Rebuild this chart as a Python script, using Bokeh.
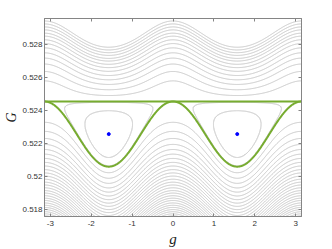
import numpy as np
from bokeh.plotting import figure
from bokeh.models import LinearAxis, FixedTicker, Range1d, CustomLabelingPolicy
from bokeh.embed import file_html
from bokeh.resources import INLINE

# ---- values ----
G_sep = 0.52455          # flat separatrix (hyperbolic points at g = 0, +-pi)
G_dip = 0.52060          # separatrix minimum at g = +-pi/2
island_g = [-np.pi / 2, np.pi / 2]
# contour crossings at g = 0 (above / below the separatrix)
G_above_at_0 = [0.52580, 0.52637, 0.52682, 0.52718, 0.52750, 0.52780, 0.52806,
                0.52829, 0.52851, 0.52869, 0.52889, 0.52907, 0.52925, 0.52943]
G_below_at_0 = [0.52329, 0.52274, 0.52231, 0.52195, 0.52164, 0.52136, 0.52110,
                0.52086, 0.52064, 0.52042, 0.52022, 0.52003, 0.51984, 0.51966,
                0.51949, 0.51932, 0.51915, 0.51900, 0.51884, 0.51869, 0.51855,
                0.51840, 0.51826, 0.51813, 0.51800, 0.51787, 0.51774, 0.51762]
# top of the closed contours inside the islands (at g = +-pi/2)
G_island_tops = [0.52450, 0.52399]
x_ticks = [-3, -2, -1, 0, 1, 2, 3]
x_tick_labels = ["-3", "-2", "-1", "0", "1", "2", "3"]
y_ticks = [0.518, 0.520, 0.522, 0.524, 0.526, 0.528]
y_tick_labels = ["0.518", "0.52", "0.522", "0.524", "0.526", "0.528"]

GRAY = "#c4c4c4"
GREEN = "#77ac30"
AX = "#858585"

d = G_sep - G_dip
g = np.linspace(-np.pi, np.pi, 721)
s = np.sin(g) ** 2

xs, ys = [], []
for G0 in G_above_at_0:
    h = (G0 - G_sep) ** 2
    u = (-d * s + np.sqrt(d * d * s * s + 4 * h)) / 2
    xs.append(g)
    ys.append(G_sep + u)
for G0 in G_below_at_0:
    h = (G0 - G_sep) ** 2
    u = (-d * s - np.sqrt(d * d * s * s + 4 * h)) / 2
    xs.append(g)
    ys.append(G_sep + u)

t = np.linspace(0, np.pi, 900)
for c in island_g:
    for Gt in G_island_tops:
        ut = Gt - G_sep
        h = ut * ut + d * ut
        u_lo = -d - ut
        u = (u_lo + ut) / 2 - (ut - u_lo) / 2 * np.cos(t)
        ss = np.clip((h - u * u) / (d * u), 0, 1)
        phi = np.arccos(np.sqrt(ss))
        gx = np.concatenate([c + phi, (c - phi)[::-1]])
        gy = np.concatenate([u, u[::-1]]) + G_sep
        xs.append(gx)
        ys.append(gy)

p = figure(frame_width=257, frame_height=198, x_range=Range1d(-np.pi, np.pi),
           y_range=Range1d(0.51758, 0.52958), output_backend="svg",
           toolbar_location=None, min_border_left=44, min_border_right=25,
           min_border_top=18, min_border_bottom=31)
p.grid.visible = False
p.outline_line_color = AX
p.background_fill_color = "white"

p.multi_line(xs, ys, line_color=GRAY, line_width=1)
p.line(g, np.full_like(g, G_sep), line_color=GREEN, line_width=2)
p.line(g, G_sep - d * s, line_color=GREEN, line_width=2)
p.scatter(island_g, [(G_sep + G_dip) / 2] * 2, size=3, color="#0000ff")

p.xaxis.ticker = FixedTicker(ticks=x_ticks)
p.yaxis.ticker = FixedTicker(ticks=y_ticks)
p.xaxis.major_label_overrides = dict(zip(x_ticks, x_tick_labels))
p.yaxis.major_label_overrides = dict(zip(y_ticks, y_tick_labels))
for ax in [p.xaxis[0], p.yaxis[0]]:
    ax.axis_line_color = AX
    ax.major_tick_line_color = AX
    ax.major_tick_in = 3
    ax.major_tick_out = 0
    ax.minor_tick_line_color = None
    ax.major_label_text_font = "Liberation Sans"
    ax.major_label_text_font_size = "8px"
    ax.major_label_text_color = "#333333"
    ax.axis_label_text_font = "Liberation Serif"
    ax.axis_label_text_font_style = "italic"
    ax.axis_label_text_color = "#222222"
p.xaxis.major_label_standoff = 4
p.yaxis.major_label_standoff = 2
p.xaxis.axis_label = "g"
p.yaxis.axis_label = "G"
p.xaxis.axis_label_text_font_size = "15px"
p.yaxis.axis_label_text_font_size = "14px"
p.xaxis.axis_label_standoff = 2
p.yaxis.axis_label_standoff = 0

hide_all = CustomLabelingPolicy(code="for (const i of indices) indices.unset(i); return indices")
for loc, tk in [("above", x_ticks), ("right", y_ticks)]:
    ax = LinearAxis(ticker=FixedTicker(ticks=tk), major_label_policy=hide_all)
    ax.axis_line_color = AX
    ax.major_tick_line_color = AX
    ax.major_tick_in = 3
    ax.major_tick_out = 0
    ax.minor_tick_line_color = None
    ax.major_label_standoff = 0
    p.add_layout(ax, loc)

open("out.html", "w").write(file_html(p, INLINE, title="phase portrait"))
